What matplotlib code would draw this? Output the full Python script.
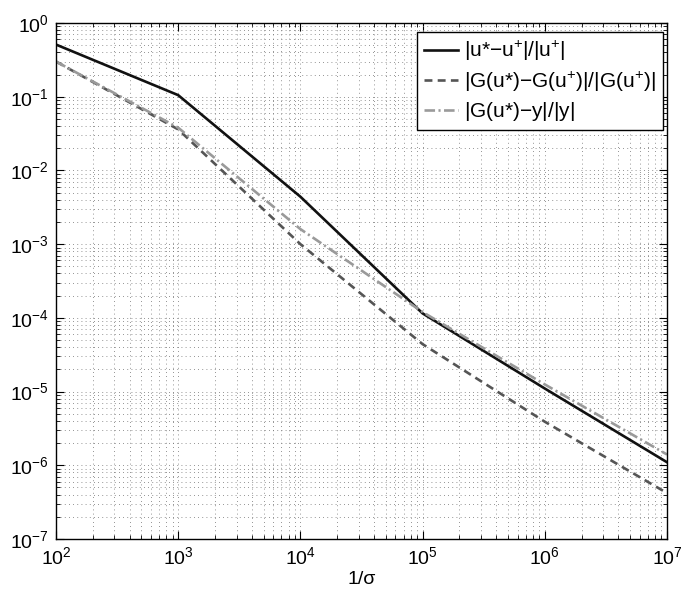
import numpy as np
import matplotlib
matplotlib.use('Agg')
import matplotlib.pyplot as plt
from matplotlib.ticker import LogLocator, NullFormatter

plt.rcParams['font.family'] = ['Liberation Sans', 'DejaVu Sans']
plt.rcParams['mathtext.fontset'] = 'custom'
plt.rcParams['mathtext.rm'] = 'Liberation Sans'
plt.rcParams['mathtext.it'] = 'Liberation Sans'

# data
inv_sigma = [1e2, 1e3, 1e4, 1e5, 1e6, 1e7]
err_u = [0.51, 0.105, 4.4e-3, 1.15e-4, 1.1e-5, 1.1e-6]
err_G = [0.30, 0.036, 1.0e-3, 4.4e-5, 3.9e-6, 4.2e-7]
err_y = [0.30, 0.038, 1.6e-3, 1.2e-4, 1.25e-5, 1.4e-6]

labels = [r'$\mathregular{|u{*}{-}u^{+}|/|u^{+}|}$',
          r'$\mathregular{|G(u{*}){-}G(u^{+})|/|G(u^{+})|}$',
          r'$\mathregular{|G(u{*}){-}y|/|y|}$']

fig = plt.figure(figsize=(6.81, 5.94), dpi=100)
ax = fig.add_axes([56/681, 55/594, 611/681, 516/594])

ax.loglog(inv_sigma, err_u, '-', color='#111111', lw=1.9, label=labels[0])
ax.loglog(inv_sigma, err_G, '--', color='#555555', lw=1.9, dashes=(3, 2), label=labels[1])
ax.loglog(inv_sigma, err_y, '-.', color='#9a9a9a', lw=1.9, dashes=(4, 1.3, 0.8, 1.3), label=labels[2])

ax.set_xlim(1e2, 1e7)
ax.set_ylim(1e-7, 1e0)

ax.xaxis.set_major_locator(LogLocator(base=10, numticks=10))
ax.yaxis.set_major_locator(LogLocator(base=10, numticks=10))
ax.xaxis.set_minor_locator(LogLocator(base=10, subs=np.arange(2, 10), numticks=20))
ax.yaxis.set_minor_locator(LogLocator(base=10, subs=np.arange(2, 10), numticks=20))
ax.xaxis.set_minor_formatter(NullFormatter())
ax.yaxis.set_minor_formatter(NullFormatter())

ax.grid(True, which='both', linestyle=(0, (1, 4)), color='#707070', lw=0.6)
ax.tick_params(which='both', direction='in', top=True, right=True, labelsize=14, pad=5)
ax.tick_params(which='major', length=6, width=0.8)
ax.tick_params(which='minor', length=3, width=0.6)
for s in ax.spines.values():
    s.set_linewidth(1.0)

ax.set_xlabel(u'1/σ', fontsize=14, labelpad=2)

leg = ax.legend(loc='upper right', bbox_to_anchor=(0.9935, 0.9826), fontsize=15,
                fancybox=False, framealpha=1, edgecolor='black', borderaxespad=0,
                handlelength=1.6, handletextpad=0.3, labelspacing=0.3, borderpad=0.35)
leg.get_frame().set_linewidth(1.0)

fig.savefig('out.png', dpi=100)
